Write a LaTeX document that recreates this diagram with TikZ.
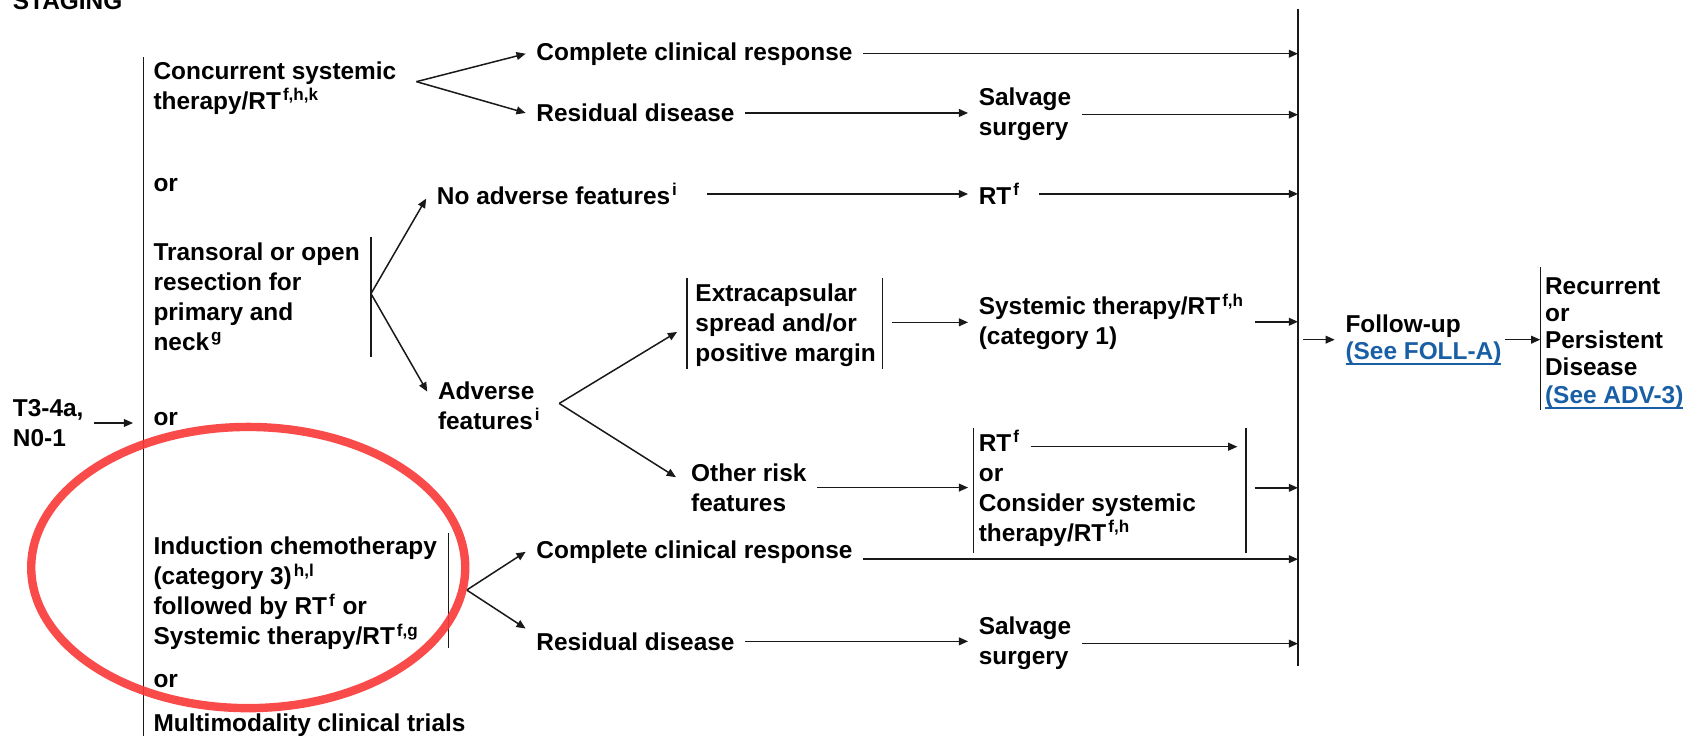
\documentclass[tikz,border=0pt]{standalone}
\usepackage{fontspec}
\setmainfont{Liberation Sans}
\usetikzlibrary{arrows.meta,calc}
\definecolor{linkblue}{RGB}{25,95,165}
\definecolor{markred}{RGB}{250,55,55}
\newcommand{\spx}[1]{\textsuperscript{\kern1pt #1}}
\newcommand{\lnk}[1]{{\color{linkblue}\setbox0\hbox{#1}\rlap{\rule[-2.8pt]{\wd0}{1pt}}\box0}}
\begin{document}
\begin{tikzpicture}[x=0.5408pt,y=-0.5408pt,
  txt/.style={inner sep=0pt, outer xsep=5.4pt, outer ysep=0pt, anchor=base west, align=left,
    font=\bfseries\fontsize{12.2}{15}\selectfont},
  txtr/.style={txt, font=\bfseries\fontsize{12.2}{13.6}\selectfont},
  ln/.style={line width=0.75pt, draw=black!90},
  arr/.style={ln, -{Triangle[length=4.6pt,width=3.9pt]}},
  redmark/.style={draw=markred, line width=4.2pt, draw opacity=0.9}
]
\useasboundingbox (0,0) rectangle (1568,680);

% trunks
\coordinate (L1) at (132.5,53);
\coordinate (L2) at (132.5,690);
\draw[ln] (L1) -- (L2);
\coordinate (R1) at (1200,8);
\coordinate (R2) at (1200,616);
\draw[ln] (R1) -- (R2);

% texts (a multi-line node is placed by the baseline of its last line)
\node[txt] (stag) at (2,9) {STAGING};
\node[txt] (t3) at (2,412.7) {T3-4a,\\N0-1};
\node[txt] (conc) at (132,101.2) {Concurrent systemic\\therapy/RT\spx{f,h,k}};
\node[txt] (or1) at (132,177) {or};
\node[txt] (trans) at (132,324.2) {Transoral or open\\resection for\\primary and\\neck\spx{g}};
\node[txt] (or2) at (132,393) {or};
\node[txt] (ind) at (132,596.2) {Induction chemotherapy\\(category 3)\spx{h,l}\\followed by RT\spx{f} or\\Systemic therapy/RT\spx{f,g}};
\node[txt] (or3) at (132,636) {or};
\node[txt] (multi) at (132,676) {Multimodality clinical trials};
\node[txt] (ccr1) at (486,55.5) {Complete clinical response};
\node[txt] (rd1) at (486,112.5) {Residual disease};
\node[txt] (sal1) at (895,125.7) {Salvage\\surgery};
\node[txt] (noadv) at (394,189) {No adverse features\spx{i}};
\node[txt] (rt1) at (895,189) {RT\spx{f}};
\node[txt] (adv) at (395,396.7) {Adverse\\features\spx{i}};
\node[txt] (ext) at (633,334.5) {Extracapsular\\spread and/or\\positive margin};
\node[txt] (sys1) at (895,318.7) {Systemic therapy/RT\spx{f,h}\\(category 1)};
\node[txt] (oth) at (629,472.7) {Other risk\\features};
\node[txt] (rtf) at (895,417.6) {RT\spx{f}};
\node[txt] (rtc) at (895,500.8) {or\\Consider systemic\\therapy/RT\spx{f,h}};
\node[txt] (ccr2) at (486,516) {Complete clinical response};
\node[txt] (rd2) at (486,601) {Residual disease};
\node[txt] (sal2) at (895,614.7) {Salvage\\surgery};
\node[txtr] (fu) at (1234,332.2) {Follow-up\\\lnk{(See FOLL-A)}};
\node[txtr] (rec) at (1418.5,372.6) {Recurrent\\or\\Persistent\\Disease\\\lnk{(See ADV-3)}};

% T3 entry
\draw[arr] (t3.east) -- ($(t3.east -| L1)+(-9.5,0)$);

% concurrent branch
\coordinate (cf) at (385,75.5);
\draw[arr] (cf) -- (ccr1.west);
\draw[arr] (cf) -- (rd1.west);
\draw[arr] (ccr1.east) -- (ccr1.east -| R1);
\draw[arr] (rd1.east) -- (rd1.east -| sal1.west);
\draw[arr] (sal1.east) -- (sal1.east -| R1);

% transoral branch
\coordinate (tbT) at (343,219.4);
\coordinate (tbB) at (343,330.3);
\draw[ln] (tbT) -- (tbB);
\coordinate (tf) at (343,271.5);
\draw[arr] (tf) -- ([yshift=-2.3pt]noadv.west);
\draw[arr] (tf) -- ([yshift=-5.1pt]adv.north west);
\draw[arr] ([xshift=9pt]noadv.east) -- (noadv.east -| rt1.west);
\draw[arr] ([xshift=4pt]rt1.east) -- (rt1.east -| R1);

% adverse features
\coordinate (af) at (517,373);
\draw[arr] (af) -- ([xshift=-3.8pt,yshift=-3.2pt]ext.west);
\draw[arr] (af) -- ([xshift=-2.2pt,yshift=5.2pt]oth.west);
\coordinate (ebL1) at (635,257);
\coordinate (ebL2) at (635,341);
\coordinate (ebR1) at (816,257);
\coordinate (ebR2) at (816,341);
\draw[ln] (ebL1) -- (ebL2);
\draw[ln] (ebR1) -- (ebR2);
\coordinate (ebM) at (816,298);
\draw[arr] ([xshift=4.9pt]ebM) -- (ebM -| sys1.west);
\draw[arr] (sys1.east) -- (sys1.east -| R1);
\draw[arr] (oth.east) -- (oth.east -| rtf.west);
\coordinate (rbL1) at (900,396);
\coordinate (rbL2) at (900,511);
\coordinate (rbR1) at (1152,396);
\coordinate (rbR2) at (1152,511);
\draw[ln] (rbL1) -- (rbL2);
\draw[ln] (rbR1) -- (rbR2);
\coordinate (rbA) at (1144,413);
\draw[arr] (rtf.east |- rbA) -- (rbA);
\coordinate (rbM) at (1152,451);
\draw[arr] ([xshift=4.3pt]rbM) -- (rbM -| R1);

% induction branch
\coordinate (ibT) at (414.5,492.5);
\coordinate (ibB) at (414.5,599);
\draw[ln] (ibT) -- (ibB);
\coordinate (indf) at (431.5,545.5);
\draw[arr] (indf) -- (ccr2.west);
\draw[arr] (indf) -- ([yshift=6.4pt]rd2.west);
\coordinate (R5) at (1200,517);
\draw[arr] (ccr2.east |- R5) -- (R5);
\draw[arr] (rd2.east) -- (rd2.east -| sal2.west);
\draw[arr] (sal2.east) -- (sal2.east -| R1);

% follow-up
\draw[arr] ($(fu.west -| R1)+(5,0)$) -- (fu.west);
\coordinate (rb1) at (1424,247);
\coordinate (rb2) at (1424,379);
\draw[ln] (rb1) -- (rb2);
\draw[arr] ([xshift=-3.5pt]fu.east) -- (fu.east -| rb1);

% red mark
\draw[redmark] (229.5,524.7) ellipse [x radius=108.5pt, y radius=70.3pt];
\end{tikzpicture}
\end{document}
